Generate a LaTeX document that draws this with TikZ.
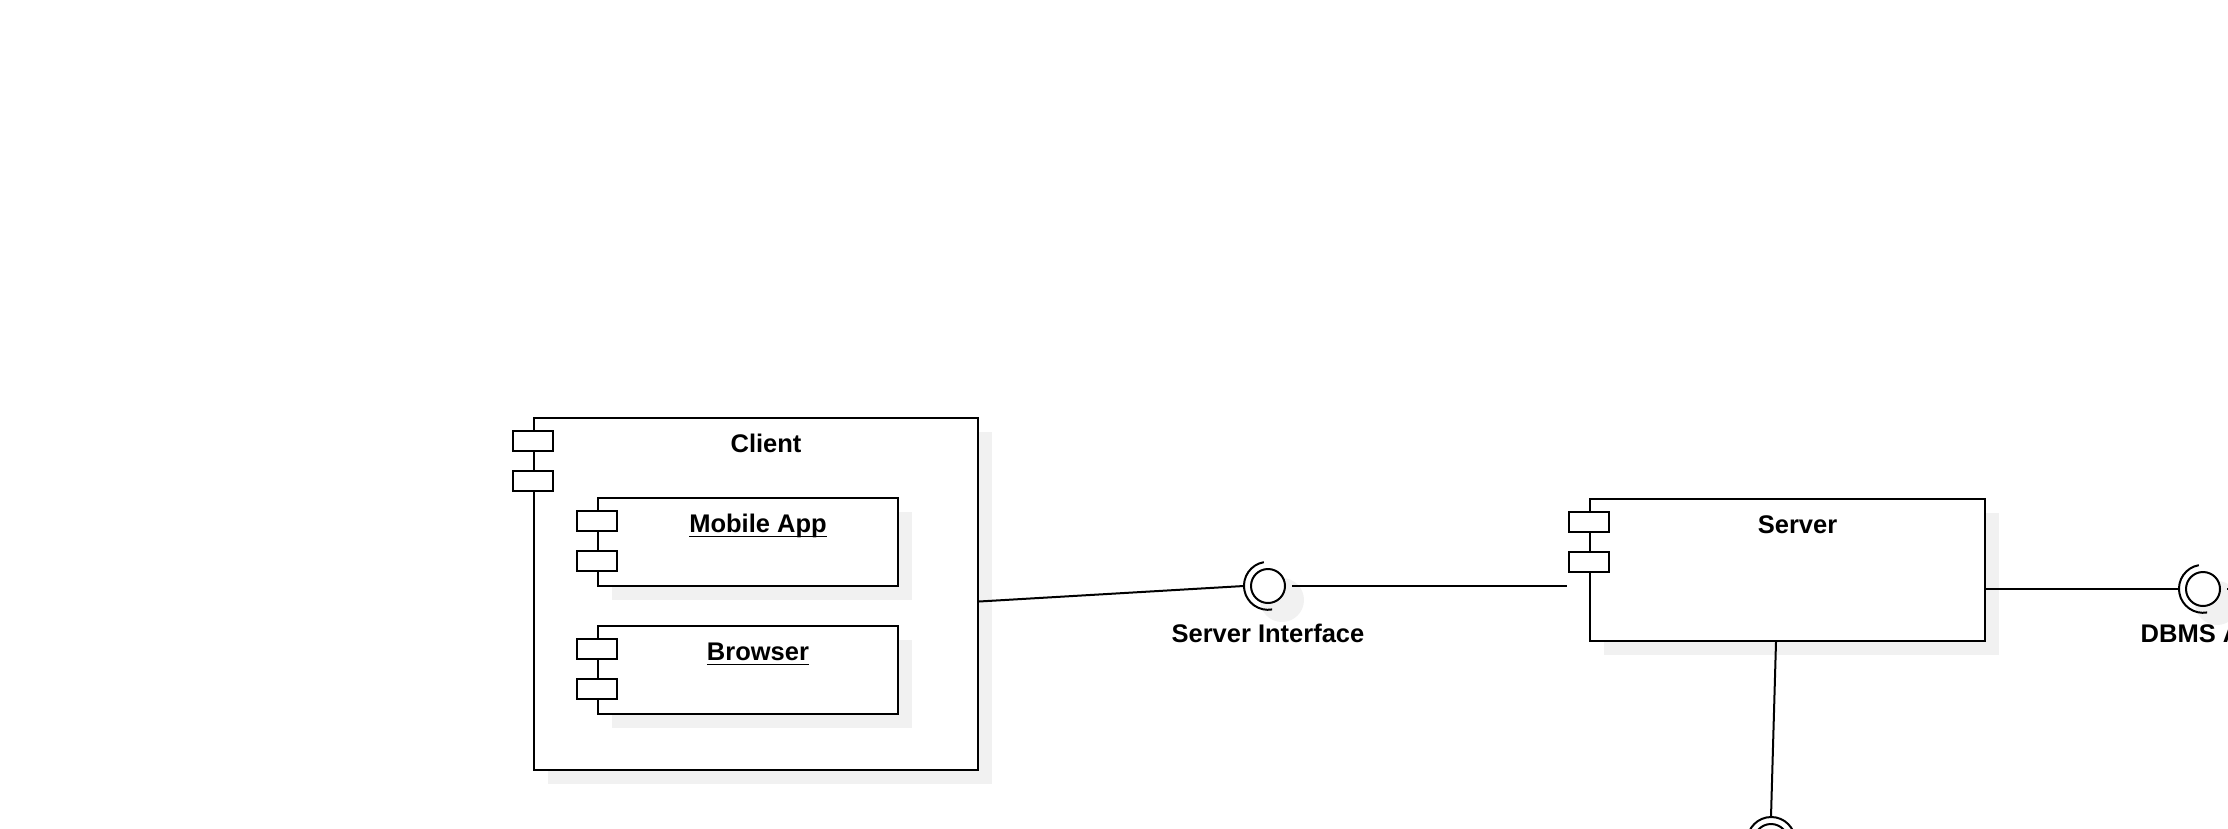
\documentclass[tikz,border=0pt]{standalone}
\usepackage{fontspec}
\setmainfont{Liberation Sans}
\usetikzlibrary{positioning, calc, shadows}
\definecolor{umlline}{HTML}{000000}
\definecolor{umlshadow}{HTML}{F1F1F1}

\newcommand{\compports}[1]{%
  \node[port] (#1-p1) at ($(#1.north west)+(0,24)$) {};
  \node[port] (#1-p2) at ($(#1.north west)+(0,64)$) {};}

\begin{document}
\begin{tikzpicture}[x=1pt, y=-1pt,
    comp/.style={draw=umlline, fill=white, line width=2pt, inner sep=0pt,
      general shadow={fill=umlshadow, shadow xshift=14pt, shadow yshift=-14pt}},
    port/.style={draw=umlline, fill=white, line width=2pt, inner sep=0pt,
      minimum width=40pt, minimum height=20pt},
    lbl/.style={inner sep=0pt, anchor=base, font=\fontsize{25.5}{30}\selectfont\bfseries},
    iface/.style={circle, draw=umlline, fill=white, line width=2pt, inner sep=0pt, minimum size=34pt},
    sock/.style={circle, inner sep=0pt, minimum size=48pt},
    link/.style={draw=umlline, line width=2pt}]
  \useasboundingbox (0,0) rectangle (2228,828);
  \clip (0,0) rectangle (2228,828);

  \node[comp, minimum width=444pt, minimum height=352pt] (client) at (756,594) {};
  \compports{client}
  \node[lbl] (client-lbl) at ($(client.north)+(10,35.5)$) {Client};

  \node[comp, minimum width=300pt, minimum height=88pt] (mobile) at (748,542) {};
  \compports{mobile}
  \node[lbl] (mobile-lbl) at ($(mobile.north)+(10,35.5)$) {Mobile App};
  \draw[line width=1.4pt] ($(mobile-lbl.base west)+(0,4)$) -- ($(mobile-lbl.base east)+(0,4)$);

  \node[comp, minimum width=300pt, minimum height=88pt] (browser) at (748,670) {};
  \compports{browser}
  \node[lbl] (browser-lbl) at ($(browser.north)+(10,35.5)$) {Browser};
  \draw[line width=1.4pt] ($(browser-lbl.base west)+(0,4)$) -- ($(browser-lbl.base east)+(0,4)$);

  \node[comp, minimum width=395pt, minimum height=142pt] (server) at (1787.5,570) {};
  \compports{server}
  \node[lbl] (server-lbl) at ($(server.north)+(10,35.5)$) {Server};

  \coordinate (si-c) at (1268,586);
  \coordinate (dbms-c) at (2203,589);
  \coordinate (store-c) at (1771,841);
  \coordinate (dbms-out) at (2245,589);
  \foreach \c in {si-c, dbms-c, store-c}
    \fill[umlshadow] ($(\c)+(14,14)$) circle (22pt);

  \node[sock] (si-sock) at (si-c) {};
  \node[iface] (si) at (si-c) {};
  \draw[link] (si-sock.100) arc[start angle=100, end angle=280, radius=24pt];
  \node[lbl] (si-lbl) at ($(si-c)+(0,56.5)$) {Server Interface};

  \node[sock] (dbms-sock) at (dbms-c) {};
  \node[iface] (dbms) at (dbms-c) {};
  \draw[link] (dbms-sock.100) arc[start angle=100, end angle=280, radius=24pt];
  \node[lbl] (dbms-lbl) at ($(dbms-c)+(0,53.5)$) {DBMS API};

  \node[sock] (store-sock) at (store-c) {};
  \node[iface] (store) at (store-c) {};
  \draw[link] (store-sock.0) arc[start angle=0, end angle=180, radius=24pt];

  \draw[link] ($(client.east)+(0,7.5)$) -- (si-sock.west);
  \draw[link] (si-sock.east) -- ($(server.west |- si-sock.east)+(-22,0)$);
  \draw[link] (server.east |- dbms-sock.west) -- (dbms-sock.west);
  \draw[link] (dbms-sock.east) -- (dbms-out);
  \draw[link] ($(server.south)+(-11.5,0)$) -- (store-sock.north);
\end{tikzpicture}
\end{document}
